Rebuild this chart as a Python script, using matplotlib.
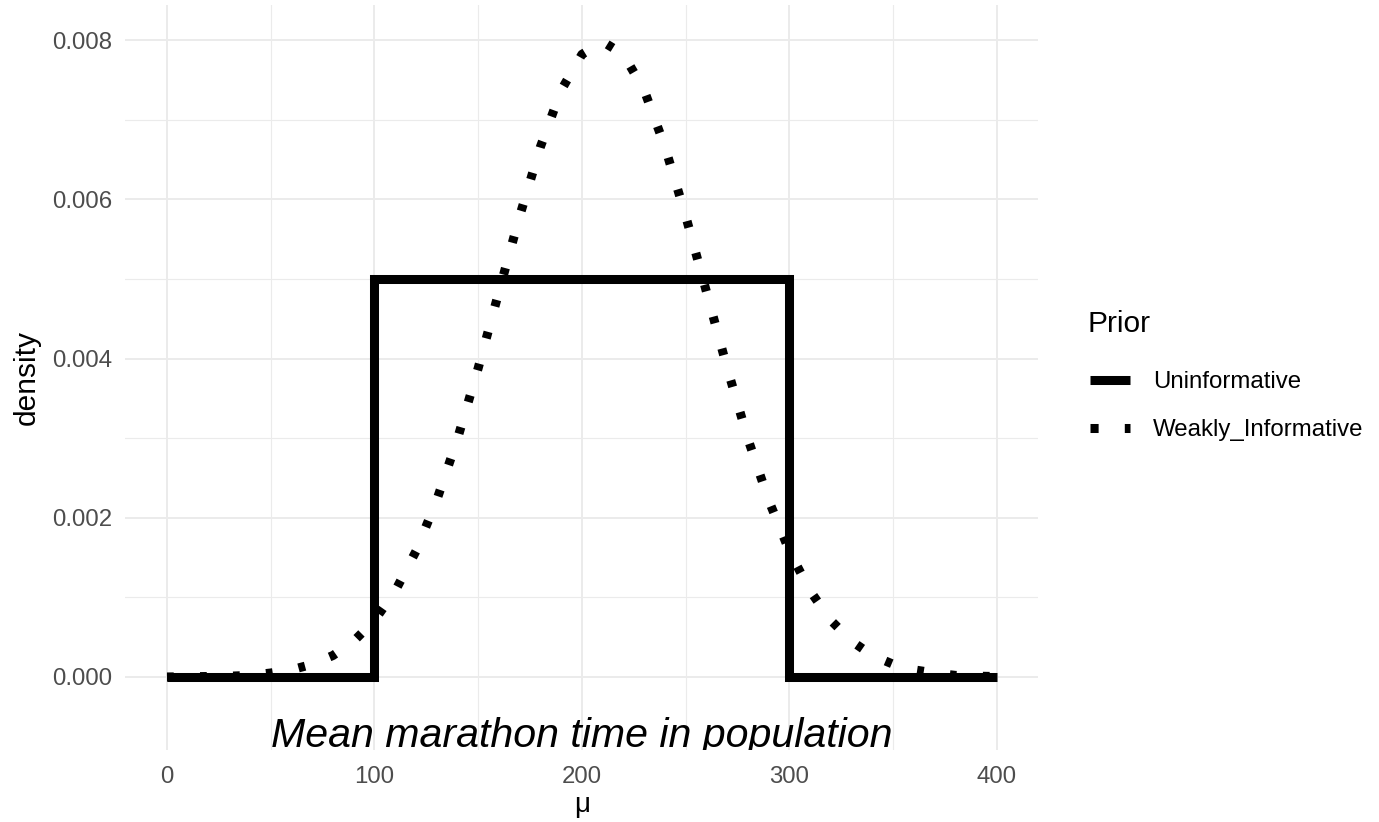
import matplotlib.pyplot as plt
from matplotlib.lines import Line2D

plt.rcParams['font.family'] = ['Liberation Sans', 'DejaVu Sans']

# Uninformative prior: uniform(100, 300)
unif_x = [0, 100, 100, 300, 300, 400]
unif_y = [0.0, 0.0, 0.005, 0.005, 0.0, 0.0]

# Weakly informative prior
weak_x = list(range(0, 410, 10))
weak_y = [0.0, 0.000003, 0.000006, 0.00001, 0.00002, 0.00005, 0.00009, 0.00016,
          0.00027, 0.00045, 0.00071, 0.00108, 0.00158, 0.00222, 0.00299, 0.00388,
          0.00484, 0.00579, 0.00666, 0.00737, 0.00782, 0.00798, 0.00782, 0.00737,
          0.00666, 0.00579, 0.00484, 0.00388, 0.00299, 0.00222, 0.00158, 0.00108,
          0.00071, 0.00045, 0.00027, 0.00016, 0.00009, 0.00005, 0.00002, 0.00001,
          0.000006]

xticks = [0, 100, 200, 300, 400]
yticks = [0.000, 0.002, 0.004, 0.006, 0.008]
labels = ['Uninformative', 'Weakly_Informative']

fig = plt.figure(figsize=(13.79, 8.22), dpi=100)
ax = fig.add_axes([0.091, 0.0876, 0.662, 0.9063])

grid_col = '#EBEBEB'
for v in xticks:
    ax.axvline(v, color=grid_col, lw=1.4, zorder=0)
for v in [50, 150, 250, 350]:
    ax.axvline(v, color=grid_col, lw=0.8, zorder=0)
for v in yticks:
    ax.axhline(v, color=grid_col, lw=1.4, zorder=0)
for v in [0.001, 0.003, 0.005, 0.007]:
    ax.axhline(v, color=grid_col, lw=0.8, zorder=0)

lw = 6.5
dots = (0, (0.75, 2.91))
ax.plot(unif_x, unif_y, color='black', lw=lw, solid_joinstyle='miter',
        solid_capstyle='butt', zorder=3)
ax.plot(weak_x, weak_y, color='black', lw=lw, linestyle=dots,
        dash_capstyle='butt', zorder=4)

ax.text(200, -0.00088, 'Mean marathon time in population', fontsize=29.6,
        style='italic', ha='center', va='baseline', clip_on=True, zorder=5)

ax.set_xlim(-20, 420)
ax.set_ylim(-0.000917, 0.00844)
ax.set_xticks(xticks)
ax.set_yticks(yticks)
ax.set_xticklabels([str(v) for v in xticks])
ax.set_yticklabels(['%.3f' % v for v in yticks])
ax.tick_params(length=0, labelsize=17.3, labelcolor='#4D4D4D')
ax.tick_params(axis='x', pad=11.5)
ax.tick_params(axis='y', pad=9.5)
for s in ax.spines.values():
    s.set_visible(False)

ax.set_xlabel('μ', fontsize=20, labelpad=3)
ax.set_ylabel('density', fontsize=21.5, labelpad=8)

fig.text(1087 / 1379, 1 - 324 / 822, 'Prior', fontsize=21.5, va='center', ha='left')
handles = [Line2D([], [], color='black', lw=lw, solid_capstyle='butt'),
           Line2D([], [], color='black', lw=lw, linestyle=(0, (0.9, 2.9)),
                  dash_capstyle='butt')]
fig.legend(handles, labels, loc='upper left',
           bbox_to_anchor=(1090 / 1379, 1 - 371 / 822),
           frameon=False, fontsize=17.3, handlelength=1.67,
           handletextpad=0.95, labelspacing=1.08, borderaxespad=0,
           borderpad=0)

fig.savefig('out.png', dpi=100)
